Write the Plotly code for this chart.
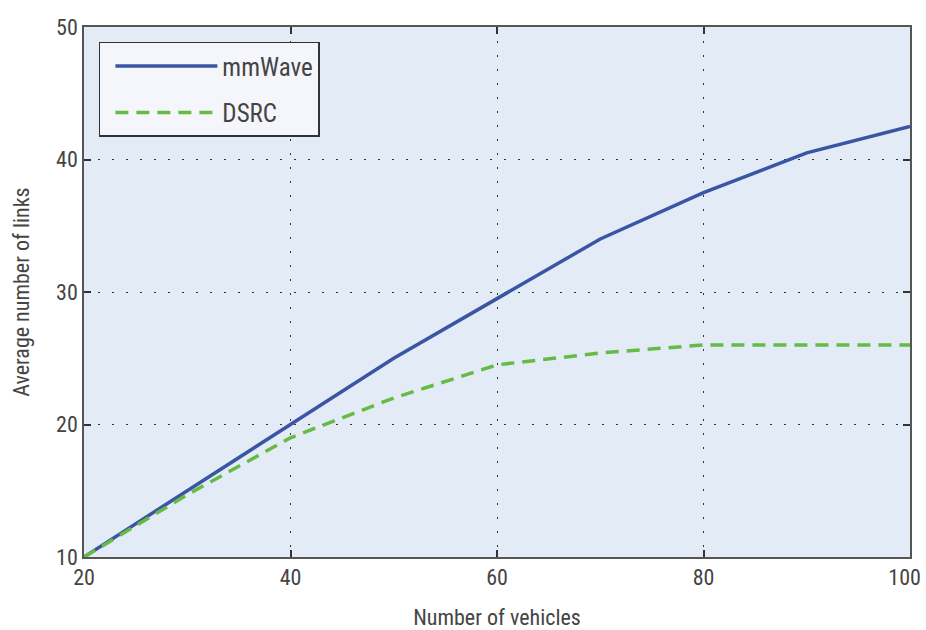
import plotly.graph_objects as go

vehicles = [20, 30, 40, 50, 60, 70, 80, 90, 100]
mmwave = [10, 15, 20, 25, 29.5, 34, 37.5, 40.5, 42.5]
dsrc = [10, 14.7, 19, 22, 24.5, 25.4, 26, 26, 26]
x_ticks = [20, 40, 60, 80, 100]
x_tick_labels = ["20", "40", "60", "80", "100\u2007"]  # figure space keeps the last label inside the window
y_ticks = [10, 20, 30, 40, 50]

FONT = "Liberation Sans Narrow, Roboto Condensed, Liberation Sans, sans-serif"
TXT = "#444444"

fig = go.Figure()
fig.add_trace(go.Scatter(x=vehicles, y=mmwave, mode="lines", name="mmWave",
                         legendgroup="a",
                         line=dict(color="#3A55A4", width=3.5)))
fig.add_trace(go.Scatter(x=vehicles, y=dsrc, mode="lines", name="DSRC",
                         legendgroup="b",
                         line=dict(color="#66BB44", width=3.5, dash="13px,8px")))

axis_common = dict(
    showline=True, linecolor="#555555", linewidth=1.5, mirror="ticks",
    ticks="inside", ticklen=7, tickcolor="#333333", tickwidth=1.5,
    showgrid=True, gridcolor="#333333", gridwidth=1.2, griddash="2px,12px",
    zeroline=False, automargin=False, ticklabeloverflow="allow",
    tickfont=dict(family=FONT, size=22, color=TXT),
)

fig.update_layout(
    width=926, height=630,
    paper_bgcolor="white", plot_bgcolor="#E3EBF6",
    margin=dict(l=84, r=16, t=27, b=73),
    xaxis=dict(range=[20, 100], tickvals=x_ticks, ticktext=x_tick_labels,
               title=dict(text="Number of vehicles", font=dict(family=FONT, size=22, color=TXT), standoff=20),
               **axis_common),
    yaxis=dict(range=[10, 50], tickvals=y_ticks,
               title=dict(text="Average number of links", font=dict(family=FONT, size=22, color=TXT), standoff=20),
               **axis_common),
    legend=dict(x=0.018, y=0.972, xanchor="left", yanchor="top",
                bgcolor="#F4F6FB", bordercolor="#333333", borderwidth=1.5,
                font=dict(family=FONT, size=25, color=TXT),
                tracegroupgap=11, itemwidth=102, indentation=10),
    showlegend=True,
)

# remove the default page margin so the 926x630 figure fills the window exactly
fig.write_html("out.html",
               config={"displayModeBar": False},
               post_script="document.body.style.margin='0';document.body.style.overflow='hidden';")
